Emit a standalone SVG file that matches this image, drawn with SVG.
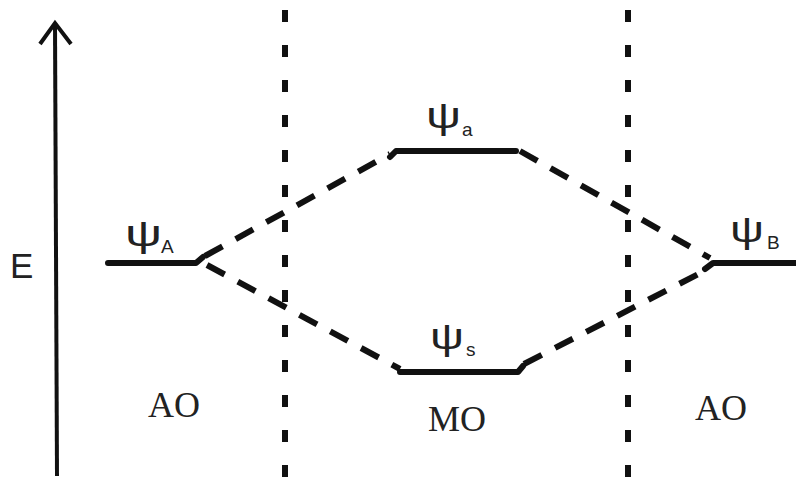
<svg xmlns="http://www.w3.org/2000/svg" width="796" height="484" viewBox="0 0 796 484">
<style>
.lvl{stroke:#111;stroke-width:6;fill:none;stroke-linecap:round;stroke-linejoin:round}
.dash{stroke:#111;stroke-width:6;fill:none;stroke-dasharray:20 15}
.sep{stroke:#111;stroke-width:6;fill:none;stroke-dasharray:12 23}
.psi{font-family:"Liberation Sans","DejaVu Sans",sans-serif;font-size:36px;fill:#222}
.sub{font-family:"Liberation Sans","DejaVu Sans",sans-serif;font-size:19px;fill:#222}
.lab{font-family:"Liberation Serif","Times New Roman",serif;font-size:36px;fill:#222}
</style>
<rect width="796" height="484" fill="#fff"/>
<g id="axis">
<line x1="57" y1="476" x2="55" y2="24" stroke="#111" stroke-width="4"/>
<polyline points="40,44 55,23 71,44" fill="none" stroke="#111" stroke-width="4" stroke-linejoin="miter"/>
<text x="10" y="278" font-family="Liberation Sans,sans-serif" font-size="35" fill="#222">E</text>
</g>
<g id="separators">
<line class="sep" x1="285" y1="10" x2="285" y2="484"/>
<line class="sep" x1="628" y1="10" x2="628" y2="484"/>
</g>
<g id="connectors">
<line class="dash" x1="205" y1="256" x2="390" y2="154"/>
<line class="dash" x1="207" y1="265" x2="400" y2="369"/>
<line class="dash" x1="520" y1="151" x2="710" y2="258"/>
<line class="dash" x1="524" y1="364" x2="710" y2="268"/>
</g>
<g id="psiA">
<polyline class="lvl" points="108,263 196,263 203,257"/>
<text class="psi" x="125" y="246" textLength="37" lengthAdjust="spacingAndGlyphs">ψ</text><text class="sub" x="161" y="253">A</text>
</g>
<g id="psia">
<polyline class="lvl" points="390,157 396,151 516,151"/>
<text class="psi" x="426" y="128" textLength="35" lengthAdjust="spacingAndGlyphs">ψ</text><text class="sub" x="462" y="136" font-size="22">a</text>
</g>
<g id="psis">
<polyline class="lvl" points="400,372 518,372 523,366"/>
<text class="psi" x="430" y="349" textLength="34" lengthAdjust="spacingAndGlyphs">ψ</text><text class="sub" x="466" y="356" font-size="21">s</text>
</g>
<g id="psiB">
<polyline class="lvl" points="705,269 713,263 796,263"/>
<text class="psi" x="730" y="242" textLength="34" lengthAdjust="spacingAndGlyphs">ψ</text><text class="sub" x="767" y="249">B</text>
</g>
<g id="labels">
<text class="lab" x="174" y="417" text-anchor="middle">AO</text>
<text class="lab" x="457" y="431" text-anchor="middle">MO</text>
<text class="lab" x="721" y="420" text-anchor="middle">AO</text>
</g>
</svg>
